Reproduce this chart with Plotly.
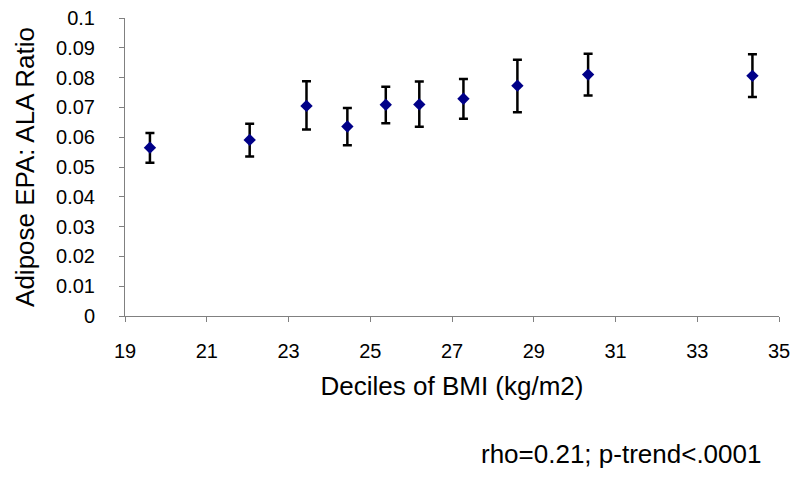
import plotly.graph_objects as go

bmi = [19.61, 22.05, 23.44, 24.44, 25.38, 26.20, 27.28, 28.60, 30.33, 34.35]
ratio = [0.0565, 0.0591, 0.0705, 0.0636, 0.0709, 0.0710, 0.0729, 0.0773, 0.0810, 0.0806]
upper = [0.0614, 0.0645, 0.0788, 0.0698, 0.0769, 0.0787, 0.0795, 0.0860, 0.0880, 0.0878]
lower = [0.0514, 0.0535, 0.0626, 0.0573, 0.0647, 0.0635, 0.0662, 0.0684, 0.0740, 0.0735]

err_plus = [u - r for u, r in zip(upper, ratio)]
err_minus = [r - l for r, l in zip(ratio, lower)]

x_ticks = list(range(19, 36, 2))
y_ticks = [i / 100 for i in range(0, 11)]
y_tick_text = ["0"] + [f"{v:g}" for v in y_ticks[1:]]

fig = go.Figure()
fig.add_trace(go.Scatter(
    x=bmi, y=ratio, mode="markers",
    marker=dict(symbol="diamond", size=9.5, color="#000088"),
    error_y=dict(type="data", symmetric=False, array=err_plus, arrayminus=err_minus,
                 color="black", thickness=2.5, width=4.5),
    showlegend=False,
))

# page has an 8px body margin, so the figure is 792x472 and offset accordingly
font = "Liberation Sans, Arial, sans-serif"
fig.update_layout(
    width=792, height=472,
    margin=dict(l=117, r=21, t=10, b=164, autoexpand=False),
    paper_bgcolor="white", plot_bgcolor="white",
    font=dict(family=font, color="black"),
    xaxis=dict(range=[19, 35], tickvals=x_ticks, ticks="outside", ticklen=5, tickcolor="#808080",
               showline=True, linecolor="#808080", linewidth=1, showgrid=False, zeroline=False,
               tickfont=dict(size=20), ticklabelstandoff=12, ticklabeloverflow="allow",
               title=dict(text="Deciles of BMI (kg/m2)", font=dict(size=26), standoff=15)),
    yaxis=dict(range=[0, 0.1], tickvals=y_ticks, ticktext=y_tick_text, ticks="outside", ticklen=5,
               tickcolor="#808080", showline=True, linecolor="#808080", linewidth=1,
               showgrid=False, zeroline=False, tickfont=dict(size=20), ticklabelstandoff=20,
               ticklabeloverflow="allow",
               title=dict(text="Adipose EPA: ALA Ratio", font=dict(size=26), standoff=13)),
    annotations=[dict(text="rho=0.21; p-trend<.0001", xref="paper", yref="paper",
                      x=(755 - 117) / 654, y=-(446 - 308) / 298, xanchor="right", yanchor="middle",
                      showarrow=False, font=dict(size=26))],
)
fig.write_html("out.html")
